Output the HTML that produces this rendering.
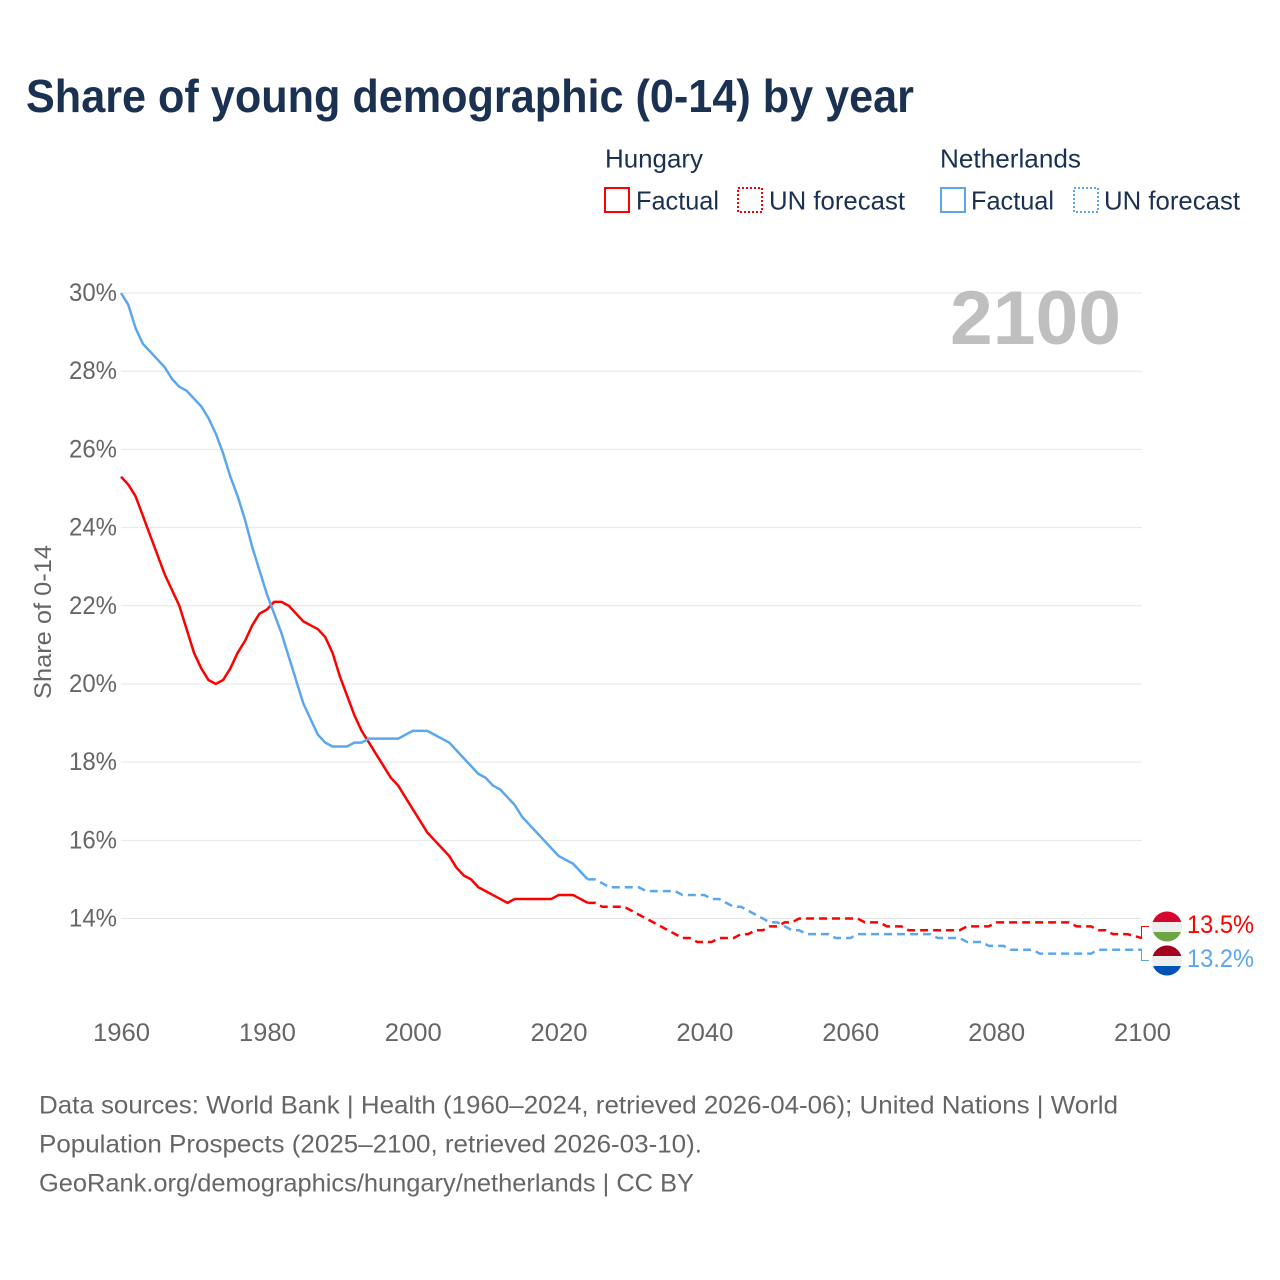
<!DOCTYPE html>
<html lang="en">
<head>
<meta charset="utf-8">
<title>Share of young demographic (0-14) by year</title>
<style>
  html, body { margin: 0; padding: 0; background: #fff; }
  svg { display: block; font-family: "Liberation Sans", sans-serif; }
  .tick { fill: #666; font-size: 25px; }
  .legend { fill: #1b3152; font-size: 26px; }
  .foot { fill: #666; font-size: 25px; }
</style>
</head>
<body>
<svg id="chart" xmlns="http://www.w3.org/2000/svg" width="1280" height="1280" viewBox="0 0 1280 1280">
  <rect x="0" y="0" width="1280" height="1280" fill="#fff"/>
  <defs>
    <clipPath id="flag-hu-clip"><circle cx="1167" cy="926.5" r="15"/></clipPath>
    <clipPath id="flag-nl-clip"><circle cx="1167" cy="960.5" r="15"/></clipPath>
  </defs>

  <text x="26" y="112" font-size="46" font-weight="700" fill="#1b3152" textLength="888" lengthAdjust="spacingAndGlyphs">Share of young demographic (0-14) by year</text>

  <g>
    <text class="legend" x="605" y="167.5" textLength="98" lengthAdjust="spacingAndGlyphs">Hungary</text>
    <text class="legend" x="940" y="167.5" textLength="141" lengthAdjust="spacingAndGlyphs">Netherlands</text>

    <rect x="605" y="188" width="24" height="24" fill="none" stroke="#ff0000" stroke-width="2"/>
    <text class="legend" x="636" y="209.5" textLength="83" lengthAdjust="spacingAndGlyphs">Factual</text>
    <rect x="738" y="188" width="24" height="24" fill="none" stroke="#ff0000" stroke-width="2" stroke-dasharray="2 2"/>
    <text class="legend" x="769" y="209.5" textLength="136" lengthAdjust="spacingAndGlyphs">UN forecast</text>

    <rect x="941" y="188" width="24" height="24" fill="none" stroke="#5ba7ee" stroke-width="2"/>
    <text class="legend" x="971" y="209.5" textLength="83" lengthAdjust="spacingAndGlyphs">Factual</text>
    <rect x="1074" y="188" width="24" height="24" fill="none" stroke="#5ba7ee" stroke-width="2" stroke-dasharray="2 2"/>
    <text class="legend" x="1104" y="209.5" textLength="136" lengthAdjust="spacingAndGlyphs">UN forecast</text>
  </g>

  <g id="grid"></g>
  <g id="y-ticks"></g>
  <g id="x-ticks"></g>

  <text transform="translate(51,622) rotate(-90)" text-anchor="middle" fill="#666" font-size="24" textLength="154" lengthAdjust="spacingAndGlyphs">Share of 0-14</text>

  <text x="1121" y="344" text-anchor="end" font-size="76" font-weight="700" fill="#bfbfbf" textLength="171" lengthAdjust="spacingAndGlyphs">2100</text>

  <g id="series"></g>

  <path id="connector-hu" fill="none" stroke="#ff0000" stroke-width="1"/>
  <path id="connector-nl" fill="none" stroke="#5ba7ee" stroke-width="1"/>

  <g clip-path="url(#flag-hu-clip)">
    <rect x="1152" y="911" width="30" height="11" fill="#d6072f"/>
    <rect x="1152" y="922" width="30" height="10" fill="#eeeeee"/>
    <rect x="1152" y="932" width="30" height="11" fill="#6da544"/>
  </g>
  <g clip-path="url(#flag-nl-clip)">
    <rect x="1152" y="945" width="30" height="11" fill="#a2001d"/>
    <rect x="1152" y="956" width="30" height="10" fill="#eeeeee"/>
    <rect x="1152" y="966" width="30" height="11" fill="#0052b4"/>
  </g>

  <text id="value-hu" x="1187" y="933" fill="#ff0000" font-size="25" textLength="67" lengthAdjust="spacingAndGlyphs"></text>
  <text id="value-nl" x="1187" y="967" fill="#5ba7ee" font-size="25" textLength="67" lengthAdjust="spacingAndGlyphs"></text>

  <g>
    <text class="foot" x="39" y="1113.5" textLength="1079" lengthAdjust="spacingAndGlyphs">Data sources: World Bank | Health (1960–2024, retrieved 2026-04-06); United Nations | World</text>
    <text class="foot" x="39" y="1152.5" textLength="663" lengthAdjust="spacingAndGlyphs">Population Prospects (2025–2100, retrieved 2026-03-10).</text>
    <text class="foot" x="39" y="1191.5" textLength="655" lengthAdjust="spacingAndGlyphs">GeoRank.org/demographics/hungary/netherlands | CC BY</text>
  </g>
</svg>

<script>
const yTickValues = [14, 16, 18, 20, 22, 24, 26, 28, 30];
const xTickValues = [1960, 1980, 2000, 2020, 2040, 2060, 2080, 2100];
const factualStartYear = 1960;
const forecastStartYear = 2024;

const hungaryFactual = [
  25.3, 25.1, 24.8, 24.3, 23.8, 23.3, 22.8, 22.4, 22.0, 21.4,
  20.8, 20.4, 20.1, 20.0, 20.1, 20.4, 20.8, 21.1, 21.5, 21.8,
  21.9, 22.1, 22.1, 22.0, 21.8, 21.6, 21.5, 21.4, 21.2, 20.8,
  20.2, 19.7, 19.2, 18.8, 18.5, 18.2, 17.9, 17.6, 17.4, 17.1,
  16.8, 16.5, 16.2, 16.0, 15.8, 15.6, 15.3, 15.1, 15.0, 14.8,
  14.7, 14.6, 14.5, 14.4, 14.5, 14.5, 14.5, 14.5, 14.5, 14.5,
  14.6, 14.6, 14.6, 14.5, 14.4
];
const hungaryForecast = [
  14.4, 14.4, 14.3, 14.3, 14.3, 14.3, 14.2, 14.1, 14.0, 13.9,
  13.8, 13.7, 13.6, 13.5, 13.5, 13.4, 13.4, 13.4, 13.5, 13.5,
  13.5, 13.6, 13.6, 13.7, 13.7, 13.8, 13.8, 13.9, 13.9, 14.0,
  14.0, 14.0, 14.0, 14.0, 14.0, 14.0, 14.0, 14.0, 13.9, 13.9,
  13.9, 13.8, 13.8, 13.8, 13.7, 13.7, 13.7, 13.7, 13.7, 13.7,
  13.7, 13.7, 13.8, 13.8, 13.8, 13.8, 13.9, 13.9, 13.9, 13.9,
  13.9, 13.9, 13.9, 13.9, 13.9, 13.9, 13.9, 13.8, 13.8, 13.8,
  13.7, 13.7, 13.6, 13.6, 13.6, 13.55, 13.5
];
const netherlandsFactual = [
  30.0, 29.7, 29.1, 28.7, 28.5, 28.3, 28.1, 27.8, 27.6, 27.5,
  27.3, 27.1, 26.8, 26.4, 25.9, 25.3, 24.8, 24.2, 23.5, 22.9,
  22.3, 21.8, 21.3, 20.7, 20.1, 19.5, 19.1, 18.7, 18.5, 18.4,
  18.4, 18.4, 18.5, 18.5, 18.6, 18.6, 18.6, 18.6, 18.6, 18.7,
  18.8, 18.8, 18.8, 18.7, 18.6, 18.5, 18.3, 18.1, 17.9, 17.7,
  17.6, 17.4, 17.3, 17.1, 16.9, 16.6, 16.4, 16.2, 16.0, 15.8,
  15.6, 15.5, 15.4, 15.2, 15.0
];
const netherlandsForecast = [
  15.0, 15.0, 14.9, 14.8, 14.8, 14.8, 14.8, 14.8, 14.7, 14.7,
  14.7, 14.7, 14.7, 14.6, 14.6, 14.6, 14.6, 14.5, 14.5, 14.4,
  14.3, 14.3, 14.2, 14.1, 14.0, 13.9, 13.9, 13.8, 13.7, 13.7,
  13.6, 13.6, 13.6, 13.6, 13.5, 13.5, 13.5, 13.6, 13.6, 13.6,
  13.6, 13.6, 13.6, 13.6, 13.6, 13.6, 13.6, 13.6, 13.5, 13.5,
  13.5, 13.5, 13.4, 13.4, 13.4, 13.3, 13.3, 13.3, 13.2, 13.2,
  13.2, 13.2, 13.1, 13.1, 13.1, 13.1, 13.1, 13.1, 13.1, 13.1,
  13.2, 13.2, 13.2, 13.2, 13.2, 13.2, 13.2
];

const NS = 'http://www.w3.org/2000/svg';
const X0 = 121, X1 = 1142, Y30 = 293, Y14 = 918.5;
const xScale = function (year) { return X0 + (year - 1960) * (X1 - X0) / 140; };
const yScale = function (value) { return Y14 + (14 - value) * (Y14 - Y30) / 16; };

const gridGroup = document.getElementById('grid');
const yTickGroup = document.getElementById('y-ticks');
const xTickGroup = document.getElementById('x-ticks');
const seriesGroup = document.getElementById('series');

yTickValues.forEach(function (value) {
  const line = document.createElementNS(NS, 'line');
  
  
  line.setAttribute('x1', X0);
  line.setAttribute('x2', X1);
  line.setAttribute('y1', yScale(value));
  line.setAttribute('y2', yScale(value));
  line.setAttribute('stroke', '#e6e6e6');
  line.setAttribute('stroke-width', '1');
  gridGroup.appendChild(line);

  const label = document.createElementNS(NS, 'text');
  
  
  label.setAttribute('class', 'tick');
  label.setAttribute('x', 69);
  label.setAttribute('y', yScale(value) + 8);
  label.setAttribute('textLength', '48');
  label.setAttribute('lengthAdjust', 'spacingAndGlyphs');
  label.textContent = value + '%';
  yTickGroup.appendChild(label);
});

xTickValues.forEach(function (year) {
  const label = document.createElementNS(NS, 'text');
  
  
  label.setAttribute('class', 'tick');
  label.setAttribute('x', xScale(year) + 0.5);
  label.setAttribute('y', 1041);
  label.setAttribute('text-anchor', 'middle');
  label.setAttribute('textLength', '57');
  label.setAttribute('lengthAdjust', 'spacingAndGlyphs');
  label.textContent = year;
  xTickGroup.appendChild(label);
});

function linePath(values, startYear) {
  return values.map(function (value, i) {
    return (i === 0 ? 'M' : 'L') + xScale(startYear + i).toFixed(2) + ' ' + yScale(value).toFixed(2);
  }).join(' ');
}

function addSeries(name, values, startYear, color, dash) {
  const path = document.createElementNS(NS, 'path');
  
  
  path.setAttribute('d', linePath(values, startYear));
  path.setAttribute('fill', 'none');
  path.setAttribute('stroke', color);
  path.setAttribute('stroke-width', '2.5');
  path.setAttribute('stroke-linejoin', 'round');
  if (dash) { path.setAttribute('stroke-dasharray', dash); }
  seriesGroup.appendChild(path);
}

addSeries('netherlands-forecast-line', netherlandsForecast, forecastStartYear, '#5ba7ee', '8 5');
addSeries('hungary-forecast-line', hungaryForecast, forecastStartYear, '#ff0000', '8 5');
addSeries('hungary-factual-line', hungaryFactual, factualStartYear, '#ff0000', null);
addSeries('netherlands-factual-line', netherlandsFactual, factualStartYear, '#5ba7ee', null);

const lastHu = hungaryForecast[hungaryForecast.length - 1];
const lastNl = netherlandsForecast[netherlandsForecast.length - 1];
document.getElementById('connector-hu').setAttribute('d', 'M' + (X1 - 0.5) + ' ' + yScale(lastHu) + ' V926.5 H1149');
document.getElementById('connector-nl').setAttribute('d', 'M' + (X1 - 0.5) + ' ' + yScale(lastNl) + ' V960.5 H1149');
document.getElementById('value-hu').textContent = lastHu.toFixed(1) + '%';
document.getElementById('value-nl').textContent = lastNl.toFixed(1) + '%';
</script>
</body>
</html>
